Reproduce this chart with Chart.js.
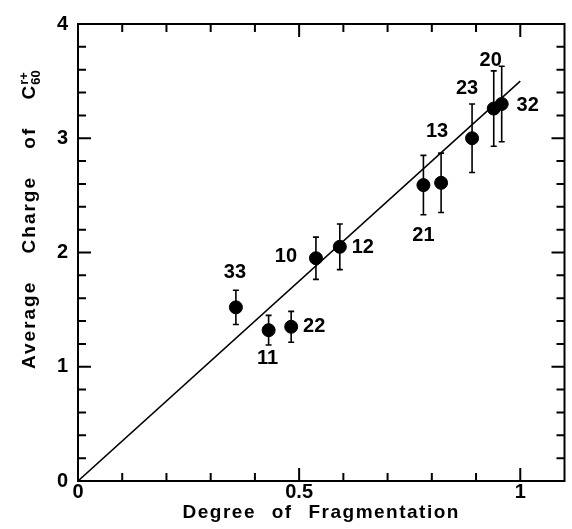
<!DOCTYPE html>
<html>
<head>
<meta charset="utf-8">
<script src="https://cdn.jsdelivr.net/npm/chart.js@4.4.0/dist/chart.umd.min.js"></script>
<style>
  html, body { margin: 0; padding: 0; background: #fff; }
</style>
</head>
<body>
<canvas id="graficoCarga" width="572" height="529"></canvas>
<script>
// datos
const etiquetas = ['33', '11', '22', '10', '12', '21', '13', '23', '20', '32'];
const fragmentacion = [0.357, 0.431, 0.482, 0.538, 0.592, 0.781, 0.821, 0.891, 0.940, 0.958];
const cargaMedia = [1.52, 1.32, 1.35, 1.95, 2.05, 2.59, 2.61, 3.00, 3.26, 3.30];
const errorCarga = [0.15, 0.13, 0.135, 0.185, 0.20, 0.26, 0.26, 0.30, 0.33, 0.33];
const ajusteX = [0, 1];
const ajusteY = [0, 3.5];
const ticksX = [0, 0.5, 1];
const ticksY = [0, 1, 2, 3, 4];

// desplazamiento (px) de cada etiqueta respecto a su punto
const desplEtiquetas = [[-1, -35], [-1, 28], [23, 0], [-30, -2], [23, 1],
                        [0, 50], [-4, -51], [-5, -50], [-3, -48], [26, 2]];

const fuente = "'Liberation Sans', Arial, sans-serif";

const dibujoExtra = {
    id: 'dibujoExtra',
    beforeDatasetsDraw(chart) {
        // barras de error
        const ctx = chart.ctx;
        const x = chart.scales.x, y = chart.scales.y;
        ctx.save();
        ctx.strokeStyle = '#000';
        ctx.lineWidth = 1.6;
        fragmentacion.forEach((f, i) => {
            const px = x.getPixelForValue(f);
            const top = y.getPixelForValue(cargaMedia[i] + errorCarga[i]);
            const bot = y.getPixelForValue(cargaMedia[i] - errorCarga[i]);
            ctx.beginPath();
            ctx.moveTo(px, top); ctx.lineTo(px, bot);
            ctx.moveTo(px - 3, top); ctx.lineTo(px + 3, top);
            ctx.moveTo(px - 3, bot); ctx.lineTo(px + 3, bot);
            ctx.stroke();
        });
        ctx.restore();
    },
    afterDraw(chart) {
        const ctx = chart.ctx;
        const a = chart.chartArea;
        const x = chart.scales.x, y = chart.scales.y;
        ctx.save();
        ctx.strokeStyle = '#000';
        ctx.lineWidth = 2;
        ctx.strokeRect(a.left, a.top, a.right - a.left, a.bottom - a.top);

        // marcas hacia dentro en los cuatro lados
        ctx.beginPath();
        for (let k = 1; k <= 10; k++) {
            const px = x.getPixelForValue(k / 10);
            const len = (k % 5 === 0) ? 13 : 8;
            ctx.moveTo(px, a.bottom); ctx.lineTo(px, a.bottom - len);
            ctx.moveTo(px, a.top); ctx.lineTo(px, a.top + len);
        }
        for (let k = 1; k < 20; k++) {
            const py = y.getPixelForValue(k / 5);
            const len = (k % 5 === 0) ? 13 : 8;
            ctx.moveTo(a.left, py); ctx.lineTo(a.left + len, py);
            ctx.moveTo(a.right, py); ctx.lineTo(a.right - len, py);
        }
        ctx.stroke();

        // etiquetas de los puntos
        ctx.fillStyle = '#000';
        ctx.font = 'bold 20px ' + fuente;
        ctx.textAlign = 'center';
        ctx.textBaseline = 'middle';
        etiquetas.forEach((t, i) => {
            const px = x.getPixelForValue(fragmentacion[i]) + desplEtiquetas[i][0];
            const py = y.getPixelForValue(cargaMedia[i]) + desplEtiquetas[i][1];
            ctx.fillText(t, px, py);
        });

        // titulo eje x
        ctx.font = 'bold 19px ' + fuente;
        ctx.letterSpacing = '1.5px';
        ctx.wordSpacing = '9px';
        ctx.textBaseline = 'alphabetic';
        ctx.fillText('Degree of Fragmentation', (a.left + a.right) / 2, 518);

        // titulo eje y con subindice y superindice
        ctx.translate(35, 369);
        ctx.rotate(-Math.PI / 2);
        ctx.textAlign = 'left';
        ctx.letterSpacing = '2px';
        ctx.wordSpacing = '20px';
        const txt = 'Average Charge of C';
        ctx.fillText(txt, 0, 0);
        const w = ctx.measureText(txt).width;
        ctx.letterSpacing = '0px';
        ctx.wordSpacing = '0px';
        ctx.font = 'bold 13px ' + fuente;
        ctx.fillText('60', w - 1, 5);
        ctx.fillText('r+', w - 1, -7);
        ctx.restore();
    }
};

document.addEventListener('DOMContentLoaded', function () {
    const ctx = document.getElementById('graficoCarga').getContext('2d');
    new Chart(ctx, {
        type: 'scatter',
        data: {
            datasets: [{
                label: 'Carga media',
                data: fragmentacion.map((f, i) => ({ x: f, y: cargaMedia[i] })),
                backgroundColor: '#000',
                borderColor: '#000',
                pointRadius: 6.5,
                pointHoverRadius: 6.5
            }, {
                label: 'Ajuste',
                data: ajusteX.map((f, i) => ({ x: f, y: ajusteY[i] })),
                showLine: true,
                borderColor: '#000',
                borderWidth: 1.5,
                pointRadius: 0,
                fill: false
            }]
        },
        options: {
            responsive: false,
            animation: false,
            layout: { padding: { top: 24, right: 1, left: 0, bottom: 0 } },
            plugins: { legend: { display: false }, tooltip: { enabled: false } },
            scales: {
                x: {
                    type: 'linear',
                    min: 0,
                    max: 1.1,
                    grid: { display: false, drawTicks: false },
                    border: { display: false },
                    afterBuildTicks: s => { s.ticks = ticksX.map(v => ({ value: v })); },
                    afterFit: s => { s.height = 48; },
                    ticks: {
                        color: '#000', padding: -1, maxRotation: 0,
                        callback: v => String(v),
                        font: { family: fuente, size: 20, weight: 'bold' }
                    }
                },
                y: {
                    min: 0,
                    max: 4,
                    grid: { display: false, drawTicks: false },
                    border: { display: false },
                    afterBuildTicks: s => { s.ticks = ticksY.map(v => ({ value: v })); },
                    afterFit: s => { s.width = 78; },
                    ticks: {
                        color: '#000', padding: 10,
                        callback: v => String(v),
                        font: { family: fuente, size: 20, weight: 'bold' }
                    }
                }
            }
        },
        plugins: [dibujoExtra]
    });
});
</script>
</body>
</html>
